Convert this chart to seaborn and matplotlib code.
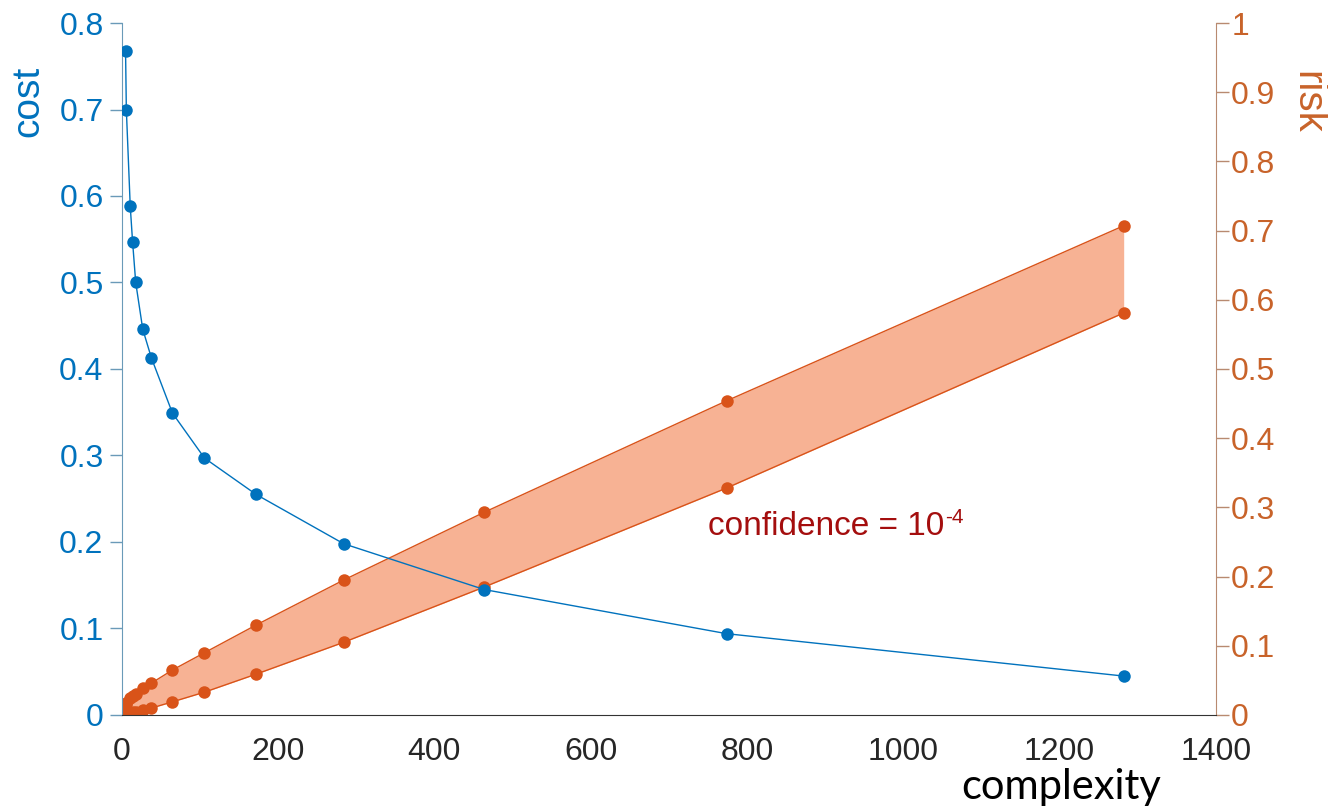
import matplotlib
matplotlib.use("Agg")
import matplotlib.pyplot as plt
import seaborn as sns
import pandas as pd
from matplotlib.transforms import offset_copy

# complexity values shared by all series
complexity = [5, 6, 11, 14, 18, 27, 38, 65, 106, 172, 284, 464, 774, 1282]
cost = [0.768, 0.700, 0.588, 0.547, 0.500, 0.446, 0.413, 0.349, 0.297,
        0.255, 0.198, 0.145, 0.094, 0.045]
risk_upper = [0.016, 0.018, 0.024, 0.027, 0.030, 0.039, 0.046, 0.065,
              0.090, 0.130, 0.195, 0.293, 0.454, 0.707]
risk_lower = [0.002, 0.002, 0.003, 0.004, 0.005, 0.007, 0.010, 0.019,
              0.033, 0.059, 0.105, 0.185, 0.328, 0.581]

cost_ticks = [0, 0.1, 0.2, 0.3, 0.4, 0.5, 0.6, 0.7, 0.8]
risk_ticks = [0, 0.1, 0.2, 0.3, 0.4, 0.5, 0.6, 0.7, 0.8, 0.9, 1]
x_ticks = [0, 200, 400, 600, 800, 1000, 1200, 1400]

BLUE = "#0072BD"
ORANGE = "#D95319"
ORANGE_TXT = "#C8632A"
FILL = "#F7B294"
DARKRED = "#A40E0E"

sns.set_style("white")
plt.rcParams["font.family"] = ["Liberation Sans", "DejaVu Sans"]

df = pd.DataFrame({"complexity": complexity, "cost": cost,
                   "upper": risk_upper, "lower": risk_lower})

fig = plt.figure(figsize=(13.28, 8.10), dpi=100)
ax = fig.add_axes([0.0916, 0.1173, 0.824, 0.8543])
ax2 = ax.twinx()

sns.lineplot(data=df, x="complexity", y="cost", ax=ax, color=BLUE, lw=1,
             marker="o", markersize=9, markeredgewidth=0, zorder=3)

ax2.fill_between(df["complexity"], df["lower"], df["upper"], color=FILL,
                 lw=0, zorder=1)
for col in ["upper", "lower"]:
    sns.lineplot(data=df, x="complexity", y=col, ax=ax2, color=ORANGE, lw=1,
                 marker="o", markersize=9, markeredgewidth=0, zorder=2)

# put the cost axis above the risk axis so the blue curve sits on top
ax.set_zorder(ax2.get_zorder() + 1)
ax.patch.set_visible(False)

ax.set_xlim(0, 1400)
ax.set_ylim(0, 0.8)
ax2.set_ylim(0, 1)
ax.set_xticks(x_ticks)
ax.set_xticklabels([str(v) for v in x_ticks])
ax.set_yticks(cost_ticks)
ax.set_yticklabels(["0"] + [f"{v:g}" for v in cost_ticks[1:]])
ax2.set_yticks(risk_ticks)
ax2.set_yticklabels([f"{v:g}" for v in risk_ticks])

ax.set_xlabel("")
ax.set_ylabel("")
ax2.set_ylabel("")

for a in (ax, ax2):
    a.spines["top"].set_visible(False)
    a.grid(False)
ax2.spines["left"].set_visible(False)
ax2.spines["bottom"].set_visible(False)
ax.spines["right"].set_visible(False)

ax.spines["left"].set_color("#6A9AB8")
ax.spines["bottom"].set_color("#333333")
ax2.spines["right"].set_color("#B88A70")

ax.tick_params(axis="x", direction="out", length=11, width=1,
               colors="#333333", labelsize=23, labelcolor="#262626", pad=5)
ax.tick_params(axis="y", direction="out", length=9, width=1,
               color="#6A9AB8", labelsize=23, labelcolor=BLUE, pad=4,
               left=True)
ax2.tick_params(axis="y", direction="out", length=9, width=1,
                color="#B88A70", labelsize=23, labelcolor=ORANGE_TXT, pad=2,
                right=True)

fig.text(0.021, 0.875, "cost", rotation=90, color=BLUE, fontsize=28,
         ha="center", va="center")
fig.text(0.984, 0.873, "risk", rotation=-90, color=ORANGE_TXT, fontsize=29,
         ha="center", va="center")
fig.text(0.874, 0.013, "complexity", color="black", fontsize=30,
         family=["Lato", "DejaVu Sans"], ha="right", va="baseline")

# annotation with a hyphen-style superscript exponent
base = ax2.text(750, 0.272, "confidence = 10", color=DARKRED,
                fontsize=24, ha="left", va="center")
fig.canvas.draw()
bb = base.get_window_extent()
x_end, y_end = ax2.transData.inverted().transform((bb.x1, bb.y0))
sup_tr = offset_copy(ax2.transData, fig=fig, x=1, y=0, units="dots")
ax2.text(x_end, 0.272, "-4", color=DARKRED, fontsize=15, ha="left",
         va="bottom", transform=sup_tr)

fig.savefig("out.png", dpi=100)
